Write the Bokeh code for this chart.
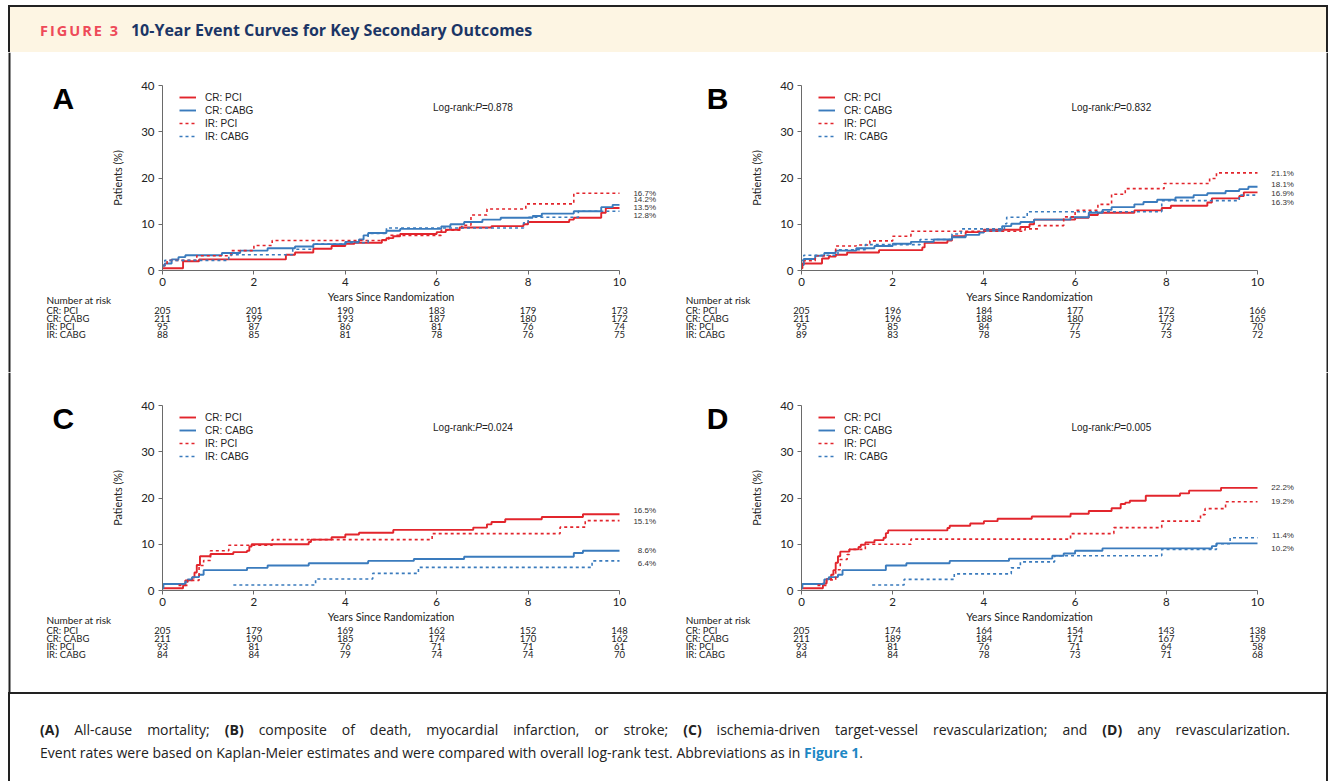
from bokeh.plotting import figure
from bokeh.models import Range1d, Label, Legend, LegendItem, Div, FixedTicker, Span
from bokeh.layouts import column, row
from bokeh.embed import file_html
from bokeh.resources import INLINE

GROUPS = ["CR: PCI", "CR: CABG", "IR: PCI", "IR: CABG"]
YEAR_TICKS = [0, 2, 4, 6, 8, 10]
PCT_TICKS = [0, 10, 20, 30, 40]

# ---------------- Panel A: all-cause mortality ----------------
A_CR_PCI_T = [0, 0.45, 0.8, 2.7, 2.9, 3.3, 3.7, 4.0, 4.2, 4.8, 4.9, 5.05, 5.2, 6.0, 6.2, 6.5, 7.2, 7.9, 8.0, 8.9, 9.0, 9.6, 9.7, 10]
A_CR_PCI_Y = [0.5, 2.0, 2.4, 3.4, 3.9, 4.7, 5.3, 5.8, 6.0, 6.6, 7.0, 7.4, 7.9, 8.3, 8.8, 9.3, 9.6, 10.0, 10.5, 11.0, 11.4, 12.5, 13.5, 13.5]
A_CR_CABG_T = [0, 0.05, 0.2, 0.35, 0.5, 1.3, 1.7, 2.3, 2.9, 3.3, 4.0, 4.3, 4.4, 4.5, 4.9, 5.2, 6.1, 6.3, 6.6, 7.0, 7.4, 8.1, 8.3, 9.0, 9.6, 9.85, 10]
A_CR_CABG_Y = [1.0, 1.5, 2.4, 2.9, 3.3, 3.8, 4.3, 4.8, 5.2, 5.7, 6.2, 6.7, 7.6, 8.1, 8.6, 9.0, 9.5, 10.0, 10.5, 11.0, 11.4, 11.8, 12.3, 12.8, 13.7, 14.2, 14.2]
A_IR_PCI_T = [0, 0.1, 0.75, 1.5, 2.0, 2.4, 4.95, 6.1, 6.55, 6.75, 7.1, 7.95, 9.0, 10]
A_IR_PCI_Y = [1.1, 2.2, 3.2, 4.3, 5.4, 6.5, 7.6, 8.7, 9.8, 12.0, 13.3, 14.4, 16.7, 16.7]
A_IR_CABG_T = [0, 0.05, 1.45, 2.85, 3.3, 4.0, 4.5, 4.9, 7.9, 8.0, 9.1, 10]
A_IR_CABG_Y = [1.1, 2.2, 3.4, 4.6, 5.7, 6.0, 8.0, 9.2, 10.3, 11.5, 12.8, 12.8]
A_FINAL = [13.5, 14.2, 16.7, 12.8]
A_RISK_CR_PCI = [205, 201, 190, 183, 179, 173]
A_RISK_CR_CABG = [211, 199, 193, 187, 180, 172]
A_RISK_IR_PCI = [95, 87, 86, 81, 76, 74]
A_RISK_IR_CABG = [88, 85, 81, 78, 76, 75]
A_PVALUE = "0.878"

# ---------------- Panel B: death, MI or stroke ----------------
B_CR_PCI_T = [0, 0.02, 0.45, 0.6, 0.75, 1.0, 1.7, 2.65, 2.7, 3.2, 3.3, 3.6, 4.0, 4.8, 5.0, 5.1, 6.0, 6.3, 6.5, 7.3, 7.9, 8.1, 8.9, 9.0, 9.6, 9.7, 10]
B_CR_PCI_Y = [0.5, 1.5, 2.6, 3.0, 3.4, 3.9, 4.4, 5.0, 6.0, 6.5, 7.4, 8.3, 8.8, 9.4, 10.0, 11.0, 11.4, 12.0, 12.5, 13.0, 13.5, 14.0, 14.7, 15.6, 16.1, 16.9, 16.9]
B_CR_CABG_T = [0, 0.05, 0.3, 0.5, 0.75, 1.2, 1.6, 2.0, 2.4, 2.9, 3.3, 3.6, 3.9, 4.0, 4.4, 4.6, 4.8, 5.1, 5.9, 6.3, 6.6, 6.8, 7.3, 7.5, 7.8, 8.2, 8.6, 8.9, 9.3, 9.6, 9.8, 10]
B_CR_CABG_Y = [1.2, 2.5, 3.2, 3.8, 4.3, 4.8, 5.3, 5.8, 6.2, 6.7, 7.2, 7.7, 8.2, 8.6, 9.6, 10.1, 10.5, 11.0, 11.5, 12.5, 13.1, 13.7, 14.3, 14.8, 15.3, 15.8, 16.3, 16.7, 17.2, 17.6, 18.1, 18.1]
B_IR_PCI_T = [0, 0.02, 0.3, 0.75, 1.2, 1.5, 2.0, 2.4, 4.9, 5.2, 5.75, 6.0, 6.5, 6.8, 7.1, 7.95, 8.95, 9.1, 10]
B_IR_PCI_Y = [1.1, 2.1, 3.2, 5.3, 5.5, 6.4, 7.4, 8.5, 9.0, 9.7, 11.6, 13.0, 14.3, 16.5, 17.7, 18.8, 19.9, 21.1, 21.1]
B_IR_CABG_T = [0, 0.05, 0.8, 1.4, 2.6, 3.3, 3.5, 4.45, 4.5, 4.95, 7.9, 9.6, 10]
B_IR_CABG_Y = [2.2, 3.3, 4.5, 5.6, 6.7, 7.9, 9.0, 10.1, 11.5, 12.7, 15.1, 16.3, 16.3]
B_FINAL = [16.9, 18.1, 21.1, 16.3]
B_RISK_CR_PCI = [205, 196, 184, 177, 172, 166]
B_RISK_CR_CABG = [211, 196, 188, 180, 173, 165]
B_RISK_IR_PCI = [95, 85, 84, 77, 72, 70]
B_RISK_IR_CABG = [89, 83, 78, 75, 73, 72]
B_PVALUE = "0.832"

# ---------------- Panel C: ischemia-driven TVR ----------------
C_CR_PCI_T = [0, 0.45, 0.5, 0.65, 0.7, 0.75, 0.82, 1.05, 1.55, 1.85, 1.9, 1.95, 3.2, 3.25, 3.7, 4.0, 4.3, 5.05, 6.8, 7.1, 7.2, 7.5, 8.3, 9.2, 10]
C_CR_PCI_Y = [0.5, 1.1, 2.2, 2.8, 3.9, 5.5, 7.4, 7.9, 8.3, 8.6, 9.5, 10.0, 10.5, 11.0, 11.5, 12.1, 12.5, 13.1, 13.6, 14.3, 14.8, 15.4, 15.9, 16.5, 16.5]
C_CR_CABG_T = [0, 0.02, 0.5, 0.55, 0.65, 0.8, 0.9, 1.85, 2.3, 3.2, 4.5, 5.5, 6.6, 9.0, 9.2, 10]
C_CR_CABG_Y = [0.5, 1.4, 1.9, 2.4, 2.9, 3.4, 4.4, 4.9, 5.4, 5.9, 6.4, 6.8, 7.3, 8.1, 8.6, 8.6]
C_IR_PCI_T = [0.35, 0.55, 0.8, 0.9, 1.05, 1.45, 2.4, 5.9, 8.7, 9.25, 10]
C_IR_PCI_Y = [1.1, 2.2, 5.4, 6.5, 8.6, 9.8, 11.0, 12.3, 13.7, 15.1, 15.1]
C_IR_CABG_T = [1.55, 3.35, 4.6, 5.6, 9.4, 10]
C_IR_CABG_Y = [1.2, 2.5, 3.7, 5.0, 6.4, 6.4]
C_FINAL = [16.5, 8.6, 15.1, 6.4]
C_RISK_CR_PCI = [205, 179, 169, 162, 152, 148]
C_RISK_CR_CABG = [211, 190, 185, 174, 170, 162]
C_RISK_IR_PCI = [93, 81, 76, 71, 71, 61]
C_RISK_IR_CABG = [84, 84, 79, 74, 74, 70]
C_PVALUE = "0.024"

# ---------------- Panel D: any revascularization ----------------
D_CR_PCI_T = [0, 0.47, 0.55, 0.65, 0.7, 0.75, 0.8, 0.85, 1.05, 1.25, 1.3, 1.4, 1.6, 1.8, 1.85, 1.9, 3.2, 3.25, 3.7, 4.0, 4.3, 5.05, 5.9, 6.3, 6.8, 7.0, 7.1, 7.2, 7.55, 8.3, 8.5, 9.2, 10]
D_CR_PCI_Y = [0.5, 1.5, 2.5, 3.4, 4.4, 6.0, 7.4, 8.4, 8.9, 9.4, 9.9, 10.4, 10.9, 11.4, 12.4, 13.0, 13.5, 14.0, 14.5, 15.0, 15.5, 16.0, 16.6, 17.2, 17.8, 18.7, 19.0, 19.4, 20.5, 21.0, 21.6, 22.2, 22.2]
D_CR_CABG_T = [0, 0.02, 0.5, 0.6, 0.8, 0.9, 1.85, 2.3, 3.25, 4.55, 5.5, 5.75, 6.0, 6.6, 9.0, 9.1, 10]
D_CR_CABG_Y = [0.5, 1.4, 2.4, 2.9, 3.4, 4.4, 5.4, 5.9, 6.4, 6.9, 7.5, 8.0, 8.6, 9.1, 9.6, 10.2, 10.2]
D_IR_PCI_T = [0.35, 0.55, 0.75, 0.85, 1.0, 1.05, 1.4, 2.4, 5.9, 6.85, 7.9, 8.75, 8.85, 9.3, 10]
D_IR_PCI_Y = [1.1, 2.3, 4.5, 6.7, 7.8, 8.9, 10.0, 11.1, 12.3, 13.6, 15.0, 16.4, 17.7, 19.2, 19.2]
D_IR_CABG_T = [1.55, 2.25, 3.35, 4.6, 4.8, 5.55, 7.9, 9.1, 9.4, 10]
D_IR_CABG_Y = [1.2, 2.4, 3.6, 4.9, 6.2, 7.5, 8.9, 10.1, 11.4, 11.4]
D_FINAL = [22.2, 10.2, 19.2, 11.4]
D_RISK_CR_PCI = [205, 174, 164, 154, 143, 138]
D_RISK_CR_CABG = [211, 189, 184, 171, 167, 159]
D_RISK_IR_PCI = [93, 81, 76, 71, 64, 58]
D_RISK_IR_CABG = [84, 84, 78, 73, 71, 68]
D_PVALUE = "0.005"

# ---------------- styling / layout constants ----------------
RED = "#e2252c"
BLUE = "#3a7bbd"
LINE_STYLES = [(RED, "solid", 1.9), (BLUE, "solid", 1.9), (RED, "3 3", 1.6), (BLUE, "3 3", 1.6)]
AXIS_COLOR = "#6a6a6a"
TXT = "#222222"
BORDER = "#222222"
CAL = "Lato"
ARIAL = "Liberation Sans"
RISK_FONT_SIZE = "9.5px"

FIG_H = 320
PLOT_TOP = 33      # pixel of y=40 inside a panel canvas
PLOT_BOTTOM = 218  # pixel of y=0 inside a panel canvas
PX_PER_Y = (PLOT_BOTTOM - PLOT_TOP) / 40.0


def build(letter, letter_x, curves, finals, final_pos, risk, pval, width, x0_px, x10_px, border_px):
    px_per_x = (x10_px - x0_px) / 10.0
    x_lo = -x0_px / px_per_x
    x_hi = 10 + (width - x10_px) / px_per_x
    y_hi = 40 + PLOT_TOP / PX_PER_Y
    y_lo = -(FIG_H - PLOT_BOTTOM) / PX_PER_Y
    p = figure(width=width, height=FIG_H, x_range=Range1d(x_lo, x_hi), y_range=Range1d(y_lo, y_hi),
               min_border=0, output_backend="svg", toolbar_location=None, title=None)
    p.outline_line_color = None
    p.xgrid.visible = False
    p.ygrid.visible = False
    p.background_fill_color = "white"
    p.border_fill_color = "white"

    p.xaxis.ticker = FixedTicker(ticks=YEAR_TICKS)
    p.yaxis.ticker = FixedTicker(ticks=PCT_TICKS)
    p.xaxis.fixed_location = 0
    p.yaxis.fixed_location = 0
    p.xaxis.bounds = (0, 10)
    p.yaxis.bounds = (0, 40)
    for ax in (p.xaxis[0], p.yaxis[0]):
        ax.axis_line_color = AXIS_COLOR
        ax.major_tick_line_color = AXIS_COLOR
        ax.minor_tick_line_color = None
        ax.major_tick_out = 4
        ax.major_tick_in = 0
        ax.major_label_text_font = CAL
        ax.major_label_text_font_size = "11.5px"
        ax.major_label_text_color = TXT
        ax.axis_label_text_font = CAL
        ax.axis_label_text_font_size = "10.8px"
        ax.axis_label_text_font_style = "normal"
        ax.axis_label_text_color = TXT
    p.xaxis.axis_label = "Years Since Randomization"
    p.xaxis.axis_label_standoff = 1
    p.xaxis.major_label_standoff = 3
    p.yaxis.axis_label = "Patients (%)"
    p.yaxis.axis_label_standoff = 14
    p.yaxis.major_label_standoff = 4

    # outer frame line of the whole figure
    p.add_layout(Span(location=x_lo + border_px / px_per_x, dimension="height",
                      line_color=BORDER, line_width=2))

    items = []
    for name, (t, y), (col, dash, lw) in zip(GROUPS, curves, LINE_STYLES):
        r = p.step(x=t, y=y, mode="after", line_color=col, line_width=lw, line_dash=dash)
        items.append(LegendItem(label=name, renderers=[r]))
    leg = Legend(items=items, location=(x0_px + 17, 230), padding=0, margin=0, spacing=1,
                 glyph_width=17, glyph_height=12, label_height=12, label_standoff=9,
                 label_text_font=ARIAL, label_text_font_size="10px", label_text_color=TXT,
                 border_line_color=None, background_fill_alpha=0)
    p.add_layout(leg)

    # log-rank text
    ly = 40 - 22 / PX_PER_Y
    lx = 5.92
    p.add_layout(Label(x=lx, y=ly, text="Log-rank:", text_font=ARIAL, text_font_size="10px",
                       text_color=TXT, text_baseline="middle"))
    p.add_layout(Label(x=lx, y=ly, x_offset=42.2, text="P", text_font=ARIAL, text_font_size="10px",
                       text_font_style="italic", text_color=TXT, text_baseline="middle"))
    p.add_layout(Label(x=lx, y=ly, x_offset=48.9, text="=" + pval, text_font=ARIAL, text_font_size="10px",
                       text_color=TXT, text_baseline="middle"))

    # panel letter
    p.add_layout(Label(x=letter_x, y=40 - 13 / PX_PER_Y, text=letter, text_font=ARIAL, text_font_size="30px",
                       text_font_style="bold", text_color="black", text_align="center", text_baseline="middle"))

    # end-of-curve percentages
    for v, yp in zip(finals, final_pos):
        p.add_layout(Label(x=10.8, y=yp, text=f"{v}%", text_font=ARIAL, text_font_size="8px",
                           text_color="#333333", text_align="right", text_baseline="middle"))

    # number-at-risk table
    rx = -2.54
    p.add_layout(Label(x=rx, y=-29 / PX_PER_Y, text="Number at risk", text_font=CAL, text_font_size="10px",
                       text_color=TXT, text_baseline="middle"))
    for i, (g, counts) in enumerate(zip(GROUPS, risk)):
        yy = -(40 + 8 * i) / PX_PER_Y
        p.add_layout(Label(x=rx, y=yy, text=g, text_font=CAL, text_font_size=RISK_FONT_SIZE,
                           text_color=TXT, text_baseline="middle"))
        for t, n in zip(YEAR_TICKS, counts):
            p.add_layout(Label(x=t, y=yy, text=str(n), text_font=CAL, text_font_size=RISK_FONT_SIZE,
                               text_color=TXT, text_align="center", text_baseline="middle"))
    return p


LEFT_W, RIGHT_W = 668, 660
pA = build("A", -2.17,
           [(A_CR_PCI_T, A_CR_PCI_Y), (A_CR_CABG_T, A_CR_CABG_Y), (A_IR_PCI_T, A_IR_PCI_Y), (A_IR_CABG_T, A_IR_CABG_Y)],
           [A_FINAL[2], A_FINAL[1], A_FINAL[0], A_FINAL[3]], [16.7, 15.4, 13.7, 11.9],
           [A_RISK_CR_PCI, A_RISK_CR_CABG, A_RISK_IR_PCI, A_RISK_IR_CABG], A_PVALUE, LEFT_W, 162, 619, 9)
pB = build("B", -1.84,
           [(B_CR_PCI_T, B_CR_PCI_Y), (B_CR_CABG_T, B_CR_CABG_Y), (B_IR_PCI_T, B_IR_PCI_Y), (B_IR_CABG_T, B_IR_CABG_Y)],
           [B_FINAL[2], B_FINAL[1], B_FINAL[0], B_FINAL[3]], [20.9, 18.6, 16.6, 14.8],
           [B_RISK_CR_PCI, B_RISK_CR_CABG, B_RISK_IR_PCI, B_RISK_IR_CABG], B_PVALUE, RIGHT_W, 133, 589, 659)
pC = build("C", -2.17,
           [(C_CR_PCI_T, C_CR_PCI_Y), (C_CR_CABG_T, C_CR_CABG_Y), (C_IR_PCI_T, C_IR_PCI_Y), (C_IR_CABG_T, C_IR_CABG_Y)],
           [C_FINAL[0], C_FINAL[2], C_FINAL[1], C_FINAL[3]], [17.4, 15.0, 8.7, 5.9],
           [C_RISK_CR_PCI, C_RISK_CR_CABG, C_RISK_IR_PCI, C_RISK_IR_CABG], C_PVALUE, LEFT_W, 162, 619, 9)
pD = build("D", -1.84,
           [(D_CR_PCI_T, D_CR_PCI_Y), (D_CR_CABG_T, D_CR_CABG_Y), (D_IR_PCI_T, D_IR_PCI_Y), (D_IR_CABG_T, D_IR_CABG_Y)],
           [D_FINAL[0], D_FINAL[2], D_FINAL[3], D_FINAL[1]], [22.2, 19.2, 12.0, 9.1],
           [D_RISK_CR_PCI, D_RISK_CR_CABG, D_RISK_IR_PCI, D_RISK_IR_CABG], D_PVALUE, RIGHT_W, 133, 589, 659)

TITLE_LABEL = "FIGURE 3"
TITLE_TEXT = "10-Year Event Curves for Key Secondary Outcomes"
header = Div(width=1336, height=52, margin=0, text=(
    '<div style="margin:5px 0 0 8px;width:1320px;height:47px;box-sizing:border-box;background:#fdf5e3;'
    'border-top:2px solid #222;border-left:2px solid #222;border-right:2px solid #222;'
    'padding:2px 0 0 30px;line-height:43px;font-family:\'Open Sans\';white-space:nowrap;">'
    f'<span style="color:#ee4a59;font-weight:700;font-size:14.5px;letter-spacing:2px;">{TITLE_LABEL}</span>'
    f'<span style="color:#1b3566;font-weight:700;font-size:16px;margin-left:11px;">{TITLE_TEXT}</span></div>'))

CAPTION_1 = ('<b>(A)</b> All-cause mortality; <b>(B)</b> composite of death, myocardial infarction, or stroke; '
             '<b>(C)</b> ischemia-driven target-vessel revascularization; and <b>(D)</b> any revascularization.')
CAPTION_2 = ('Event rates were based on Kaplan-Meier estimates and were compared with overall log-rank test. '
             'Abbreviations as in <b style="color:#1d87c4;">Figure 1</b>.')
caption = Div(width=1336, height=89, margin=0, text=(
    '<div style="margin-left:8px;width:1320px;height:89px;box-sizing:border-box;border-top:2px solid #222;'
    'border-left:2px solid #222;border-right:2px solid #222;'
    'padding:24px 0 0 30px;font-family:\'Open Sans\';font-size:14px;line-height:23px;color:#222;">'
    '<div style="width:1250px;text-align:justify;text-align-last:justify;white-space:nowrap;">' + CAPTION_1 + '</div>'
    '<div style="white-space:nowrap;">' + CAPTION_2 + '</div></div>'))

layout = column(header, row(pA, pB), row(pC, pD), caption)

open("out.html", "w").write(file_html(layout, INLINE))
